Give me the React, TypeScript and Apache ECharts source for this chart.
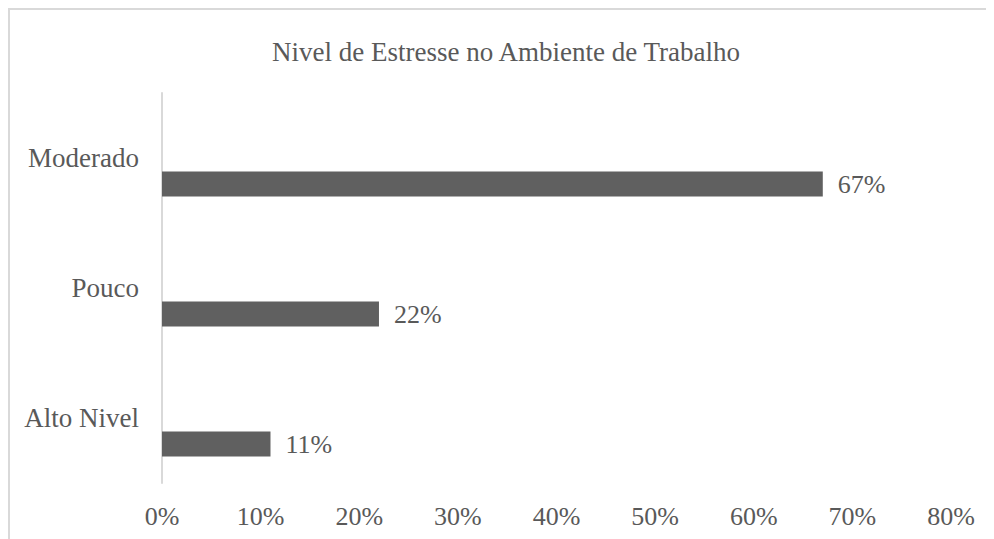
import React, { useEffect, useRef } from "react";
import * as echarts from "echarts";

const categories = ["Alto Nivel", "Pouco", "Moderado"];
const values = [11, 22, 67];
const xTicks = [0, 10, 20, 30, 40, 50, 60, 70, 80];
const titleText = "Nivel de Estresse no Ambiente de Trabalho";

const FONT = "Liberation Serif, Times New Roman, serif";
const TEXT = "#595959";

export default function App() {
  const ref = useRef<HTMLDivElement>(null);
  useEffect(() => {
    document.documentElement.style.overflow = "hidden";
    document.body.style.overflow = "hidden";
    if (!ref.current) return;
    const chart = echarts.init(ref.current, undefined, { renderer: "svg" });
    chart.setOption({
      animation: false,
      textStyle: { fontFamily: FONT },
      title: {
        text: titleText,
        left: 491,
        top: 23,
        textAlign: "center",
        textStyle: { fontFamily: FONT, fontSize: 27, fontWeight: "normal", color: TEXT },
      },
      grid: { left: 152, right: 43, top: 83, bottom: 56, containLabel: false },
      xAxis: {
        type: "value",
        min: xTicks[0],
        max: xTicks[xTicks.length - 1],
        interval: 10,
        splitLine: { show: false },
        axisLine: { show: false },
        axisTick: { show: false },
        axisLabel: {
          formatter: "{value}%",
          fontFamily: FONT,
          fontSize: 26,
          color: TEXT,
          margin: 20,
        },
      },
      yAxis: {
        type: "category",
        data: categories,
        axisLine: { show: true, lineStyle: { color: "#d9d9d9", width: 2 } },
        axisTick: { show: false },
        axisLabel: { fontFamily: FONT, fontSize: 27, color: TEXT, margin: 23 },
      },
      series: [
        {
          type: "bar",
          name: "empty",
          data: categories.map(() => null),
          barWidth: 25,
          barGap: "108%",
        },
        {
          type: "bar",
          name: "real",
          data: values,
          barWidth: 25,
          barGap: "108%",
          itemStyle: { color: "#606060" },
          label: {
            show: true,
            position: "right",
            distance: 15,
            formatter: "{c}%",
            fontFamily: FONT,
            fontSize: 26,
            color: TEXT,
          },
        },
      ],
    });
    return () => chart.dispose();
  }, []);
  return (
    <div
      style={{
        width: 1100,
        height: 600,
        borderTop: "2px solid #d9d9d9",
        borderLeft: "2px solid #d9d9d9",
        overflow: "hidden",
      }}
    >
      <div ref={ref} style={{ width: 984, height: 529 }} />
    </div>
  );
}
